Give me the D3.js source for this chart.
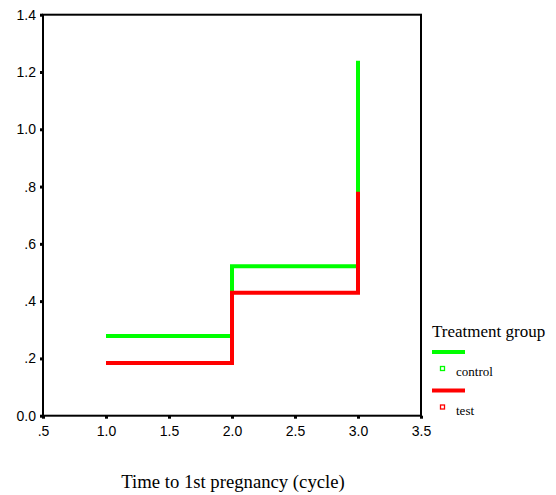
<!DOCTYPE html>
<html>
<head>
<meta charset="utf-8">
<script src="https://cdn.jsdelivr.net/npm/d3@7"></script>
<style>
  body { margin: 0; background: #fff; }
  svg { display: block; }
</style>
</head>
<body>
<svg id="chart"></svg>
<script>
// cumulative hazard by cycle
var cycles = [1, 2, 3];
var controlValues = [0.278, 0.522, 1.239];
var testValues = [0.184, 0.429, 0.782];
var groupNames = ["control", "test"];
var groupColors = ["#00ff00", "#ff0000"];
var xTicks = [0.5, 1.0, 1.5, 2.0, 2.5, 3.0, 3.5];
var yTicks = [0, 0.2, 0.4, 0.6, 0.8, 1.0, 1.2, 1.4];

var W = 556, H = 495;
var svg = d3.select("#chart").attr("width", W).attr("height", H);

var x = d3.scaleLinear().domain([0.5, 3.5]).range([43, 421]);
var y = d3.scaleLinear().domain([0, 1.4]).range([415.7, 14.7]);

// SPSS style labels: ".5", "1.0", "0.0"
function spssFmt(v) {
  if (v === 0) return "0.0";
  return d3.format(".1f")(v).replace(/^0\./, ".");
}

// frame
svg.append("rect")
  .attr("x", x(0.5)).attr("y", y(1.4))
  .attr("width", x(3.5) - x(0.5)).attr("height", y(0) - y(1.4))
  .attr("fill", "none").attr("stroke", "#000").attr("stroke-width", 2);

var yAxis = svg.append("g")
  .attr("transform", "translate(" + x(0.5) + ",0)")
  .call(d3.axisLeft(y).tickValues(yTicks).tickFormat(spssFmt).tickSize(3).tickPadding(4));
var xAxis = svg.append("g")
  .attr("transform", "translate(0," + y(0) + ")")
  .call(d3.axisBottom(x).tickValues(xTicks).tickFormat(spssFmt).tickSize(3).tickPadding(7));

[yAxis, xAxis].forEach(function (a) {
  a.select(".domain").remove();
  a.selectAll(".tick line").attr("stroke", "#000").attr("stroke-width", 3);
  a.selectAll(".tick text")
    .attr("font-family", "Liberation Sans, Arial, sans-serif")
    .attr("font-size", 14).attr("fill", "#000");
});

// step lines, control first so test sits on top
var series = [controlValues, testValues];
var line = d3.line()
  .x(function (d) { return x(d[0]); })
  .y(function (d) { return y(d[1]); })
  .curve(d3.curveStepAfter);

series.forEach(function (vals, i) {
  var pts = cycles.map(function (c, j) { return [c, vals[j]]; });
  // vertical rise at the last cycle
  var last = pts[pts.length - 1];
  var prev = pts[pts.length - 2];
  var drawn = pts.slice(0, -1).concat([[last[0], prev[1]], last]);
  svg.append("path")
    .datum(drawn)
    .attr("d", line)
    .attr("fill", "none")
    .attr("stroke", groupColors[i])
    .attr("stroke-width", 4)
    .attr("stroke-linejoin", "miter");
});

// x title
svg.append("text")
  .attr("x", 233).attr("y", 488)
  .attr("text-anchor", "middle")
  .attr("font-family", "Liberation Serif, Times New Roman, serif")
  .attr("font-size", 18.7)
  .text("Time to 1st pregnancy (cycle)");

// legend
var lg = svg.append("g").attr("transform", "translate(432,0)");
lg.append("text")
  .attr("x", 0).attr("y", 337)
  .attr("font-family", "Liberation Serif, Times New Roman, serif")
  .attr("font-size", 17)
  .text("Treatment group");

groupNames.forEach(function (name, i) {
  var top = 352 + i * 38.5;
  lg.append("line")
    .attr("x1", 0).attr("x2", 33)
    .attr("y1", top).attr("y2", top)
    .attr("stroke", groupColors[i]).attr("stroke-width", 4);
  lg.append("rect")
    .attr("x", 8.5).attr("y", top + 14.5)
    .attr("width", 4).attr("height", 4)
    .attr("fill", "#fff").attr("stroke", groupColors[i]).attr("stroke-width", 1.3);
  lg.append("text")
    .attr("x", 24).attr("y", top + 24)
    .attr("font-family", "Liberation Serif, Times New Roman, serif")
    .attr("font-size", 13)
    .text(name);
});
</script>
</body>
</html>
